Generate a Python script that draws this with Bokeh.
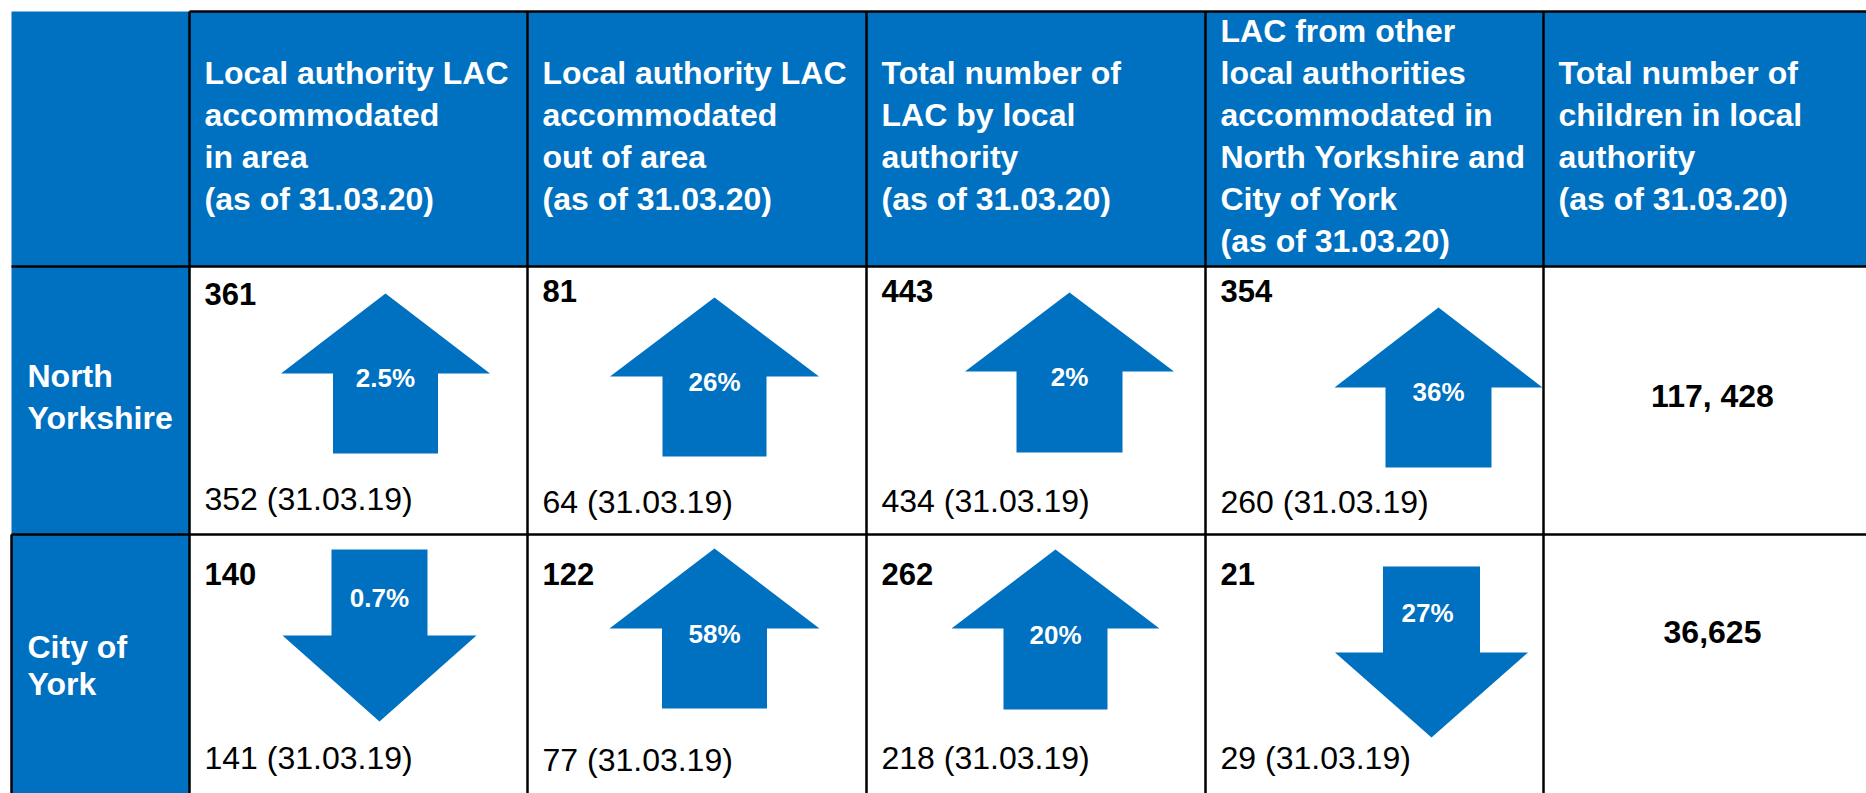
from bokeh.plotting import figure
from bokeh.models import Range1d
from bokeh.embed import file_html
from bokeh.resources import INLINE
from bokeh.core.properties import value

# ---------------- data ----------------
areas = [["North", "Yorkshire"], ["City of", "York"]]
headers = [
    ["Local authority LAC", "accommodated", "in area", "(as of 31.03.20)"],
    ["Local authority LAC", "accommodated", "out of area", "(as of 31.03.20)"],
    ["Total number of", "LAC by local", "authority", "(as of 31.03.20)"],
    ["LAC from other", "local authorities", "accommodated in",
     "North Yorkshire and", "City of York", "(as of 31.03.20)"],
    ["Total number of", "children in local", "authority", "(as of 31.03.20)"],
]
current_2020 = [[361, 81, 443, 354], [140, 122, 262, 21]]
previous_2019 = [[352, 64, 434, 260], [141, 77, 218, 29]]
change_pct = [["2.5%", "26%", "2%", "36%"], ["0.7%", "58%", "20%", "27%"]]
prev_date = "31.03.19"
total_children = ["117, 428", "36,625"]

# ---------------- layout (pixel space of the page) ----------------
W, H = 1866, 793
col_edges = [11, 189, 527, 866, 1205, 1543, 1881]
row_edges = [11, 266, 534, 802]
pad = 15
header_center = 147.5
header_step = 42
area_baselines = [[388, 430], [659, 696]]
top_baselines = [[305, 302, 302, 302], [585, 585, 585, 585]]
bottom_baselines = [[511, 514, 513, 514], [770, 772, 770, 770]]
total_baselines = [408, 644]
# arrow geometry per cell: centre x, top y, bottom y, head length, head half width, shaft half width
arrow_cx = [[385, 714, 1069, 1438], [379, 714, 1055, 1431]]
arrow_top = [[293, 297, 292, 307], [549, 548, 549, 566]]
arrow_bottom = [[453, 456, 452, 467], [721, 708, 709, 737]]
arrow_head = [[80, 79, 79, 80], [86, 80, 79, 85]]
arrow_hh = [[104.5, 104.5, 104.5, 104], [97, 105, 104, 96.5]]
arrow_sh = [[52.5, 52, 53, 53], [48, 52.5, 52, 48.5]]
pct_x = [[385, 714, 1069, 1438], [379, 714, 1055, 1427]]
pct_baseline = [[387, 391, 386, 401], [607, 643, 644, 622]]

BLUE = "#0070C0"
FONT = value("Liberation Sans")
SHIFT = 0.38  # baseline correction, fraction of font size

p = figure(width=W, height=H, x_range=Range1d(0, W), y_range=Range1d(H, 0),
           output_backend="svg", toolbar_location=None, min_border=0)
p.axis.visible = False
p.grid.visible = False
p.outline_line_color = None
p.background_fill_color = "white"
p.border_fill_color = "white"


def put_text(xv, yv, tv, size, color, style, align="left"):
    ys_ = [y - SHIFT * size for y in yv]
    p.text(x=xv, y=ys_, text=tv, text_color=color, text_font=FONT, text_font_style=style,
           text_font_size=f"{size}px", text_baseline="alphabetic", text_align=align)


# blue header row and first column
p.quad(left=[col_edges[0], col_edges[0]], right=[col_edges[-1], col_edges[1]],
       top=[row_edges[0], row_edges[1]], bottom=[row_edges[1], row_edges[-1]],
       fill_color=BLUE, line_color=None)

# grid lines
x0, y0, x1, y1 = [], [], [], []
for cx in col_edges[1:-1]:
    x0.append(cx); x1.append(cx); y0.append(row_edges[0]); y1.append(row_edges[-1])
x0.append(col_edges[1]); x1.append(col_edges[-1]); y0.append(row_edges[0]); y1.append(row_edges[0])
for ry in row_edges[1:3]:
    x0.append(col_edges[0]); x1.append(col_edges[-1]); y0.append(ry); y1.append(ry)
x0.append(col_edges[0]); x1.append(col_edges[0]); y0.append(row_edges[2]); y1.append(row_edges[-1])
p.segment(x0=x0, y0=y0, x1=x1, y1=y1, line_color="black", line_width=2.5)

# header texts
hx, hy, ht = [], [], []
for c, lines in enumerate(headers):
    n = len(lines)
    for i, t in enumerate(lines):
        hx.append(col_edges[c + 1] + pad)
        hy.append(header_center + (i - (n - 1) / 2) * header_step)
        ht.append(t)
put_text(hx, hy, ht, 32, "white", "bold")

# area names
ax, ay, at = [], [], []
for r, lines in enumerate(areas):
    for i, t in enumerate(lines):
        ax.append(col_edges[0] + 16)
        ay.append(area_baselines[r][i])
        at.append(t)
put_text(ax, ay, at, 32, "white", "bold")

# arrows
xs, ys = [], []
for r in range(2):
    for c in range(4):
        cx = arrow_cx[r][c]; top = arrow_top[r][c]; bot = arrow_bottom[r][c]
        hl = arrow_head[r][c]; hh = arrow_hh[r][c]; sh = arrow_sh[r][c]
        if current_2020[r][c] > previous_2019[r][c]:
            base = top + hl
            xs.append([cx, cx + hh, cx + sh, cx + sh, cx - sh, cx - sh, cx - hh])
            ys.append([top, base, base, bot, bot, base, base])
        else:
            base = bot - hl
            xs.append([cx, cx + hh, cx + sh, cx + sh, cx - sh, cx - sh, cx - hh])
            ys.append([bot, base, base, top, top, base, base])
p.patches(xs=xs, ys=ys, fill_color=BLUE, line_color=None)

# cell numbers
nx, ny, nt = [], [], []
bx, by, bt = [], [], []
px, py, pt = [], [], []
for r in range(2):
    for c in range(4):
        nx.append(col_edges[c + 1] + pad); ny.append(top_baselines[r][c]); nt.append(str(current_2020[r][c]))
        bx.append(col_edges[c + 1] + pad); by.append(bottom_baselines[r][c])
        bt.append(f"{previous_2019[r][c]} ({prev_date})")
        px.append(pct_x[r][c]); py.append(pct_baseline[r][c]); pt.append(change_pct[r][c])
put_text(nx, ny, nt, 31, "black", "bold")
put_text(bx, by, bt, 32, "black", "normal")
put_text(px, py, pt, 26, "white", "bold", "center")

# totals
tx = [(col_edges[5] + col_edges[6]) / 2] * 2
put_text(tx, total_baselines, total_children, 32, "black", "bold", "center")

open("out.html", "w").write(file_html(p, INLINE))
